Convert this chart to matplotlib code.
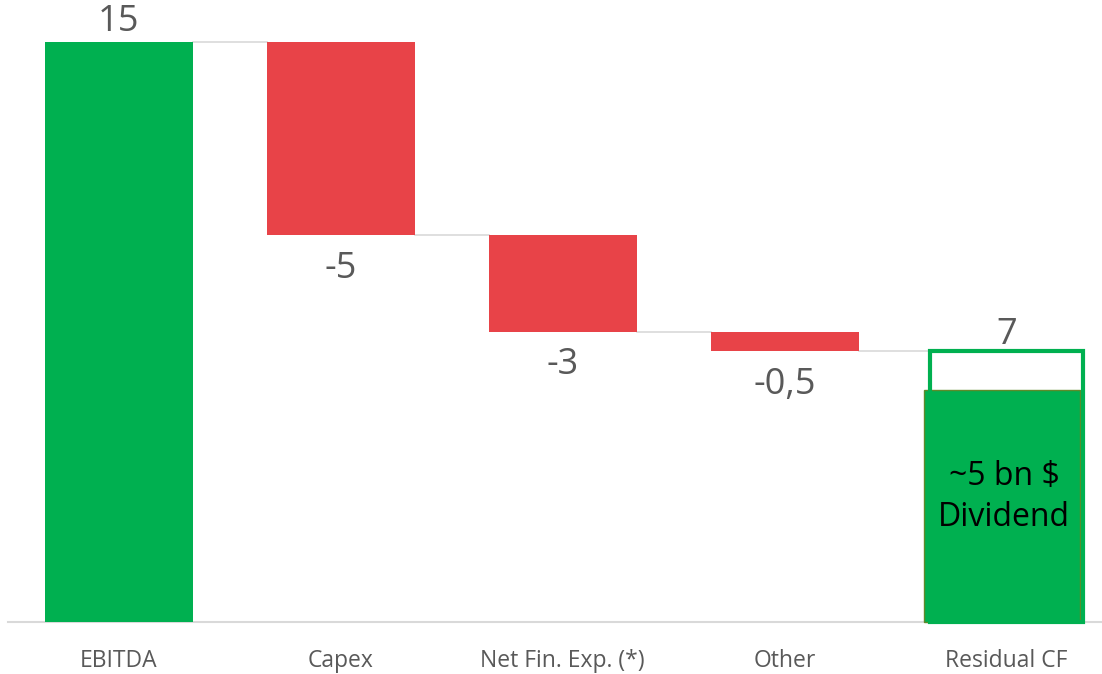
import matplotlib.pyplot as plt
import numpy as np

# -----------------------
# Data
# -----------------------
categories = ["EBITDA", "Capex", "Net Fin. Exp. (*)", "Other", "Residual CF"]
changes = [15, -5, -2.5, -0.5]
value_labels = ["15", "-5", "-3", "-0,5", "7"]
residual = 7
dividend = 6
dividend_text = "~5 bn $\nDividend"

GREEN = "#00B050"
RED = "#E84348"
GRAY = "#595959"
LINE = "#D9D9D9"

plt.rcParams['font.family'] = ['Open Sans', 'DejaVu Sans']

fig = plt.figure(figsize=(11.02, 6.74), dpi=100)
ax = fig.add_axes([0, 0, 1, 1])
ax.set_xlim(-0.534, 4.43)
ax.set_ylim(-1.345, 16.085)
ax.axis("off")

width = 0.667
x = np.arange(len(categories))

# running totals for the floating bars
ends = np.cumsum(changes)
starts = ends - np.array(changes)

for i, ch in enumerate(changes):
    color = GREEN if ch > 0 else RED
    ax.bar(x[i], ch, bottom=starts[i], width=width, color=color, zorder=2)

# residual: outline for the total, filled part for the dividend
ax.bar(x[4] - 0.02, dividend, width=0.70, color=GREEN, edgecolor="#5E8A2A",
       linewidth=1, zorder=2)
ax.bar(x[4], residual, width=width + 0.02, facecolor="none", edgecolor=GREEN,
       linewidth=3, zorder=3)

# connector lines
levels = list(ends)
for i in range(len(levels)):
    ax.plot([x[i] + width / 2, x[i + 1] - width / 2], [levels[i], levels[i]],
            color=LINE, lw=1.2, zorder=1)

# baseline
ax.axhline(0, xmin=8 / 1102, xmax=1, color=LINE, lw=1.5, zorder=1)

# value labels
ax.text(x[0], 15.05, value_labels[0], ha="center", va="bottom", fontsize=26, color=GRAY)
for i in range(1, 4):
    ax.text(x[i], ends[i] - 0.4, value_labels[i], ha="center", va="top",
            fontsize=26, color=GRAY)
ax.text(x[4], residual - 0.05, value_labels[4], ha="center", va="bottom",
        fontsize=26, color=GRAY)

ax.text(x[4] - 0.01, 3.23, dividend_text, ha="center", va="center",
        fontsize=23, color="black", linespacing=1.3)

# category labels
for i, c in enumerate(categories):
    ax.text(x[i], -1.02, c, ha="center", va="center", fontsize=16.5, color=GRAY)

fig.savefig("out.png", dpi=100)
